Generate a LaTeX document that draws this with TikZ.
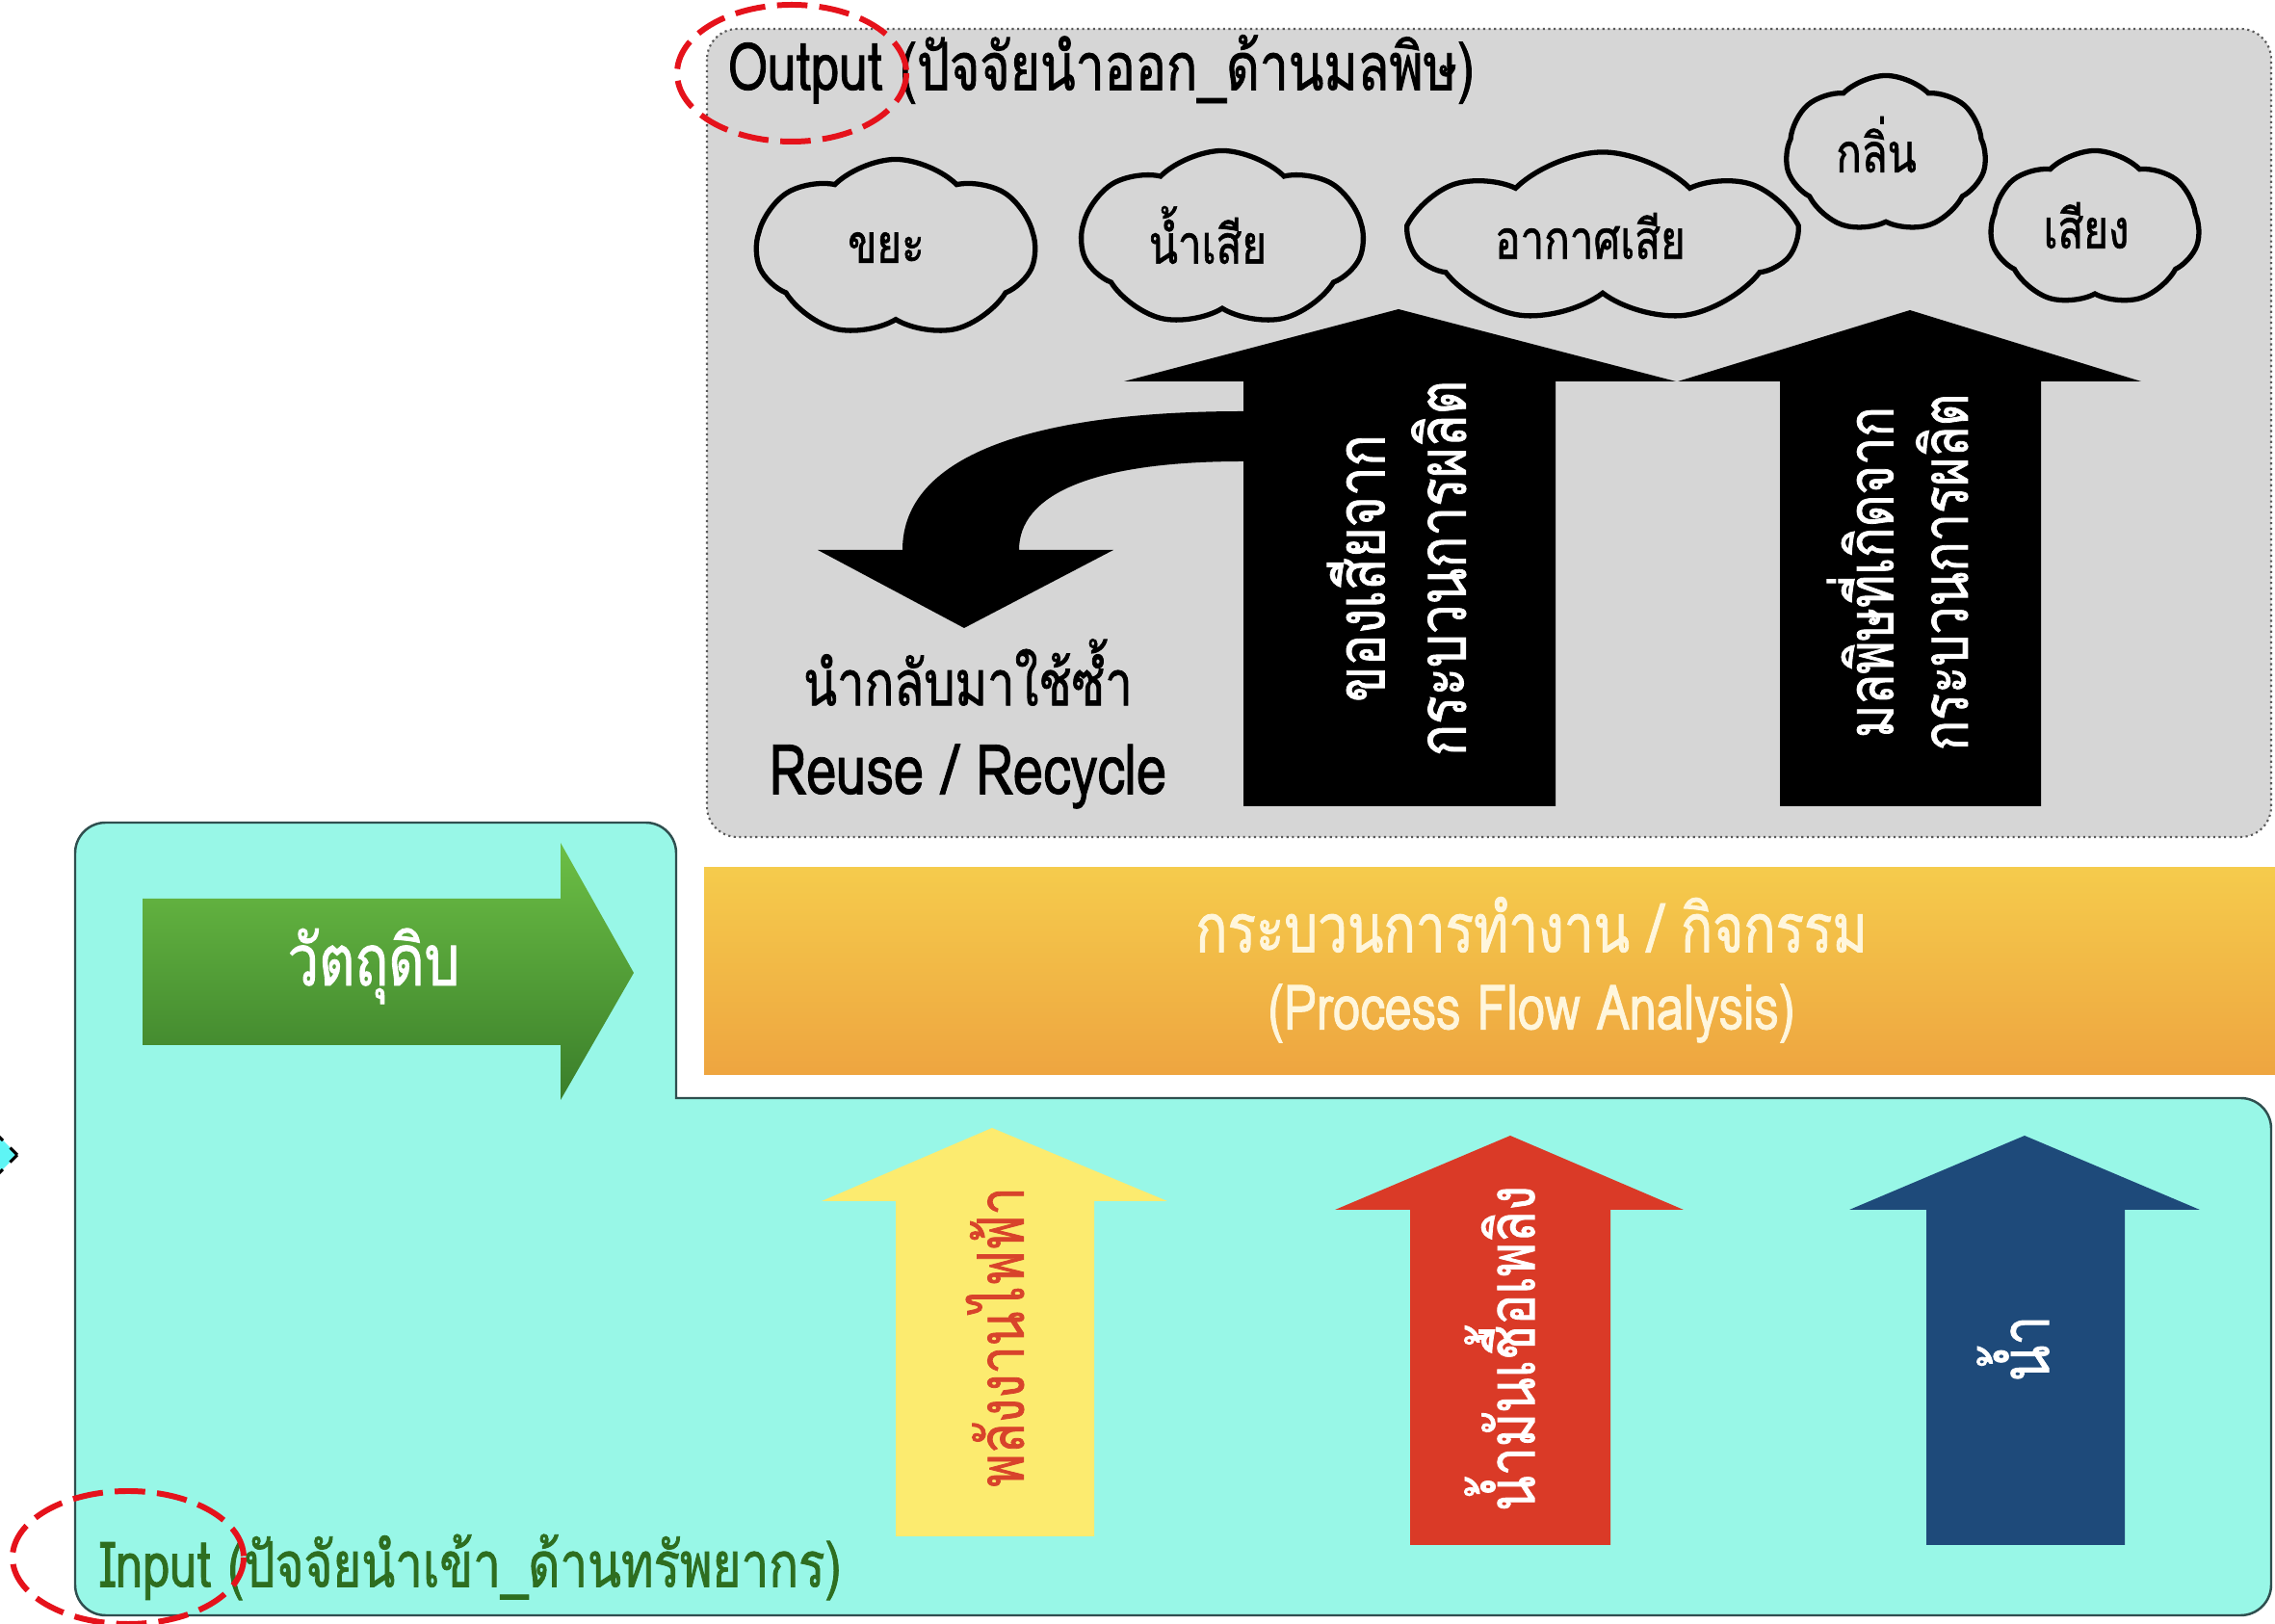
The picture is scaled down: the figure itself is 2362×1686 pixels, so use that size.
\documentclass[tikz,border=0pt]{standalone}
\usepackage{fontspec}
\newfontfamily\thf[Script=Thai,FakeStretch=0.78,FakeBold=1.2]{Loma}
\usetikzlibrary{shapes.symbols}
\definecolor{cyanbox}{HTML}{98F7E7}
\definecolor{boxline}{HTML}{2F4F4F}
\definecolor{graybox}{HTML}{D6D6D6}
\definecolor{orTop}{HTML}{F5CB4C}
\definecolor{orBot}{HTML}{EEA540}
\definecolor{grTop}{HTML}{6CBF45}
\definecolor{grBot}{HTML}{3A7E2A}
\definecolor{yelArrow}{HTML}{FCEB6F}
\definecolor{redArrow}{HTML}{DA3A27}
\definecolor{bluArrow}{HTML}{1E4A7A}
\definecolor{yelText}{HTML}{D8432B}
\definecolor{inGreen}{HTML}{2E6E20}
\definecolor{dashRed}{HTML}{E5121B}
\definecolor{procText}{HTML}{FFF6DC}
\definecolor{diaCyan}{HTML}{5EF5F5}
\begin{document}
\begin{tikzpicture}[x=0.01cm,y=-0.01cm,
  lbl/.style={inner sep=0pt,font=\thf\fontsize{20}{24}\selectfont},
  cloudbox/.style={cloud,cloud puffs=7,cloud puff arc=90,cloud ignores aspect,draw=black,line width=1.5pt,inner sep=0pt},
  cloudtext/.style={lbl,font=\thf\fontsize{16}{19}\selectfont},
  vtext/.style={lbl,rotate=90,align=center},
  reddash/.style={draw=dashRed,line width=1.7pt,dash pattern=on 9pt off 3.5pt}]
\useasboundingbox (0,0) rectangle (2362,1686);
\fill[white] (0,0) rectangle (2362,1686);

% left cut-off diamond
\draw[fill=diaCyan,draw=black,line width=0.9pt,dashed] (18,1199) -- (-10,1171) -- (-38,1199) -- (-10,1227) -- cycle;

% input box
\draw[fill=cyanbox,draw=boxline,line width=0.7pt] (1500,1140) -- (702,1140) -- (702,1000) [rounded corners=9pt] -- (702,854) -- (78,854) -- (78,1677) -- (2358,1677) -- (2358,1140) -- cycle;

% output box
\draw[fill=graybox,draw=black!65,densely dotted,line width=0.6pt,rounded corners=9pt] (734,30) rectangle (2358,869);

% process box
\shade[top color=orTop,bottom color=orBot] (731,901) rectangle (2362,1116);

% green arrow
\shade[top color=grTop,bottom color=grBot] (148,933) -- (582,933) -- (582,875) -- (658,1010) -- (582,1142) -- (582,1085) -- (148,1085) -- cycle;

% clouds
\node[cloudbox,minimum width=28.9mm,minimum height=18.5mm] (c1) at (930,258) {};
\node[cloudbox,minimum width=29.2mm,minimum height=18.3mm] (c2) at (1269,248) {};
\node[cloudbox,minimum width=39.6mm,minimum height=17.8mm] (c3) at (1664,247) {};
\node[cloudbox,minimum width=20.8mm,minimum height=16.3mm] (c4) at (1958,160) {};
\node[cloudbox,minimum width=21.7mm,minimum height=16.1mm] (c5) at (2175,237) {};
\node[cloudtext] (c1t) at (920,257) {ขยะ};
\node[cloudtext] (c2t) at (1254,244) {น้ำเสีย};
\node[cloudtext] (c3t) at (1651,245) {อากาศเสีย};
\node[cloudtext] (c4t) at (1948,150) {กลิ่น};
\node[cloudtext] (c5t) at (2166,234) {เสียง};

% curved reuse arrow
\fill[black] (1291,427) .. controls (1080,427) and (937,470) .. (937,571) -- (849,571) -- (1001,652) -- (1156,571) -- (1058,571) .. controls (1058,515) and (1130,479) .. (1291,479) -- cycle;

% black arrows
\fill[black] (1291,837) -- (1291,396) -- (1167,396) -- (1452,321) -- (1740,396) -- (1615,396) -- (1615,837) -- cycle;
\fill[black] (1848,837) -- (1848,396) -- (1742,396) -- (1983,322) -- (2223,396) -- (2119,396) -- (2119,837) -- cycle;
\node[vtext,text=white] (w1) at (1450,590) {ของเสียจาก\\กระบวนการผลิต};
\node[vtext,text=white,font=\thf\fontsize{19}{22}\selectfont] (w2) at (1970,594) {มลพิษที่เกิดจาก\\กระบวนการผลิต};

% reuse text
\node[lbl,font=\thf\fontsize{18.5}{22}\selectfont] (r1) at (1005,698) {นำกลับมาใช้ซ้ำ};
\node[lbl,font=\thf\fontsize{20.5}{24}\selectfont] (r2) at (1005,806) {Reuse / Recycle};

% bottom arrows
\fill[yelArrow] (930,1595) -- (930,1247) -- (853,1247) -- (1030,1171) -- (1212,1247) -- (1136,1247) -- (1136,1595) -- cycle;
\fill[redArrow] (1464,1604) -- (1464,1256) -- (1386,1256) -- (1568,1179) -- (1748,1256) -- (1672,1256) -- (1672,1604) -- cycle;
\fill[bluArrow] (2000,1604) -- (2000,1256) -- (1920,1256) -- (2102,1179) -- (2284,1256) -- (2206,1256) -- (2206,1604) -- cycle;
\node[vtext,text=yelText,font=\thf\fontsize{19}{22}\selectfont] (e1) at (1033,1388) {พลังงานไฟฟ้า};
\node[vtext,text=white,font=\thf\fontsize{19.5}{22}\selectfont] (e2) at (1557,1400) {น้ำมันเชื้อเพลิง};
\node[vtext,text=white] (e3) at (2090,1400) {น้ำ};

% process text
\node[lbl,text=procText,font=\thf\fontsize{20}{22}\selectfont] (proc1) at (1590,960) {กระบวนการทำงาน / กิจกรรม};
\node[lbl,text=procText,font=\thf\fontsize{18.5}{22}\selectfont] (proc2) at (1590,1052) {(Process Flow Analysis)};

% green arrow text
\node[lbl,text=white,font=\thf\fontsize{21}{24}\selectfont] (raw) at (388,1003) {วัตถุดิบ};

% labels
\node[lbl,anchor=west,font=\thf\fontsize{19.5}{24}\selectfont] (outl) at (755,72) {Output (ปัจจัยนำออก\_ด้านมลพิษ)};
\node[lbl,anchor=west,text=inGreen,font=\thf\fontsize{18.6}{24}\selectfont] (inl) at (103,1627) {Input (ปัจจัยนำเข้า\_ด้านทรัพยากร)};

% red dashed ellipses
\draw[reddash] (822,76) ellipse [x radius=119,y radius=71];
\draw[reddash] (133,1617) ellipse [x radius=120,y radius=69];
\end{tikzpicture}
\end{document}
